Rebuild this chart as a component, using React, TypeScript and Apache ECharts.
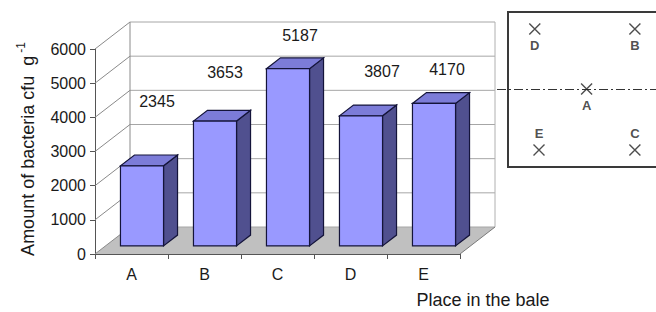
import React, { useEffect, useRef } from "react";
import * as echarts from "echarts";

// ---- data ----
const categories = ["A", "B", "C", "D", "E"];
const values = [2345, 3653, 5187, 3807, 4170];
const yMin = 0;
const yMax = 6000;
const yStep = 1000;
const xTitle = "Place in the bale";
const yTitle = "Amount of bacteria cfu  g";
const yTitleSup = "-1";

// bale diagram (relative positions in the bale sketch)
const balePlaces = ["D", "B", "A", "E", "C"];
const baleX = [0.27, 0.985, 0.64, 0.3, 0.985];
const baleY = [0.89, 0.89, 0.503, 0.11, 0.11];
const baleLabelPos = ["bottom", "bottom", "bottom", "top", "top"];
const baleAxisY = 0.5;

// label placement tweaks (style only)
const labelShift = [
  [15, -64],
  [10, -49],
  [12, -33],
  [21, -44],
  [13, -34],
];

const FONT = "'Liberation Sans', Arial, Helvetica, sans-serif";
const DEPTH_X = 35;
const DEPTH_Y = -27;

export default function App() {
  const ref = useRef<HTMLDivElement>(null);
  useEffect(() => {
    if (!ref.current) return;
    const chart = echarts.init(ref.current, null, { renderer: "svg" });
    const ticks: number[] = [];
    for (let v = yMin; v <= yMax; v += yStep) ticks.push(v);

    const frameRender = (params: any, api: any) => {
      const cs = params.coordSys;
      const gx = cs.x;
      const gw = cs.width;
      const y0 = api.coord([0, 0])[1];
      const yTop = api.coord([0, yMax])[1];
      const children: any[] = [];
      children.push({
        type: "polygon",
        shape: {
          points: [
            [gx, y0],
            [gx + gw, y0],
            [gx + gw + DEPTH_X, y0 + DEPTH_Y],
            [gx + DEPTH_X, y0 + DEPTH_Y],
          ],
        },
        style: { fill: "#c0c0c0", stroke: "none" },
      });
      ticks.forEach((t) => {
        const y = api.coord([0, t])[1];
        children.push({
          type: "line",
          shape: { x1: gx + DEPTH_X, y1: y + DEPTH_Y, x2: gx + gw + DEPTH_X, y2: y + DEPTH_Y },
          style: { stroke: "#a6a6a6", lineWidth: 1 },
        });
        children.push({
          type: "line",
          shape: { x1: gx, y1: y, x2: gx + DEPTH_X, y2: y + DEPTH_Y },
          style: { stroke: "#8a8a8a", lineWidth: 1 },
        });
      });
      children.push({
        type: "line",
        shape: { x1: gx + DEPTH_X, y1: y0 + DEPTH_Y, x2: gx + DEPTH_X, y2: yTop + DEPTH_Y },
        style: { stroke: "#8a8a8a", lineWidth: 1 },
      });
      children.push({
        type: "line",
        shape: { x1: gx + gw + DEPTH_X, y1: y0 + DEPTH_Y, x2: gx + gw + DEPTH_X, y2: yTop + DEPTH_Y },
        style: { stroke: "#b0b0b0", lineWidth: 1 },
      });
      children.push({
        type: "line",
        shape: { x1: gx + gw, y1: y0, x2: gx + gw + DEPTH_X, y2: y0 + DEPTH_Y },
        style: { stroke: "#7a7a7a", lineWidth: 1 },
      });
      return { type: "group", children };
    };

    const barRender = (params: any, api: any) => {
      const i = api.value(0);
      const v = api.value(1);
      const base = api.coord([i, 0]);
      const top = api.coord([i, v]);
      const bw = api.size([1, 0])[0] * 0.59;
      const fx = DEPTH_X * 0.3;
      const fy = DEPTH_Y * 0.3;
      const dx = DEPTH_X * 0.4;
      const dy = DEPTH_Y * 0.4;
      const xl = base[0] + fx - bw / 2;
      const xr = xl + bw;
      const yb = base[1] + fy;
      const yt = top[1] + fy;
      const stroke = "#14143a";
      const sh = labelShift[params.dataIndex] || [12, -40];
      return {
        type: "group",
        children: [
          {
            type: "polygon",
            shape: { points: [[xr, yt], [xr + dx, yt + dy], [xr + dx, yb + dy], [xr, yb]] },
            style: { fill: "#50508f", stroke, lineWidth: 1.2 },
          },
          {
            type: "polygon",
            shape: { points: [[xl, yt], [xr, yt], [xr + dx, yt + dy], [xl + dx, yt + dy]] },
            style: { fill: "#7c7cd8", stroke, lineWidth: 1.2 },
          },
          {
            type: "rect",
            shape: { x: xl, y: yt, width: bw, height: yb - yt },
            style: { fill: "#9999ff", stroke, lineWidth: 1.2 },
          },
          {
            type: "text",
            x: (xl + xr) / 2 + sh[0],
            y: yt + sh[1],
            style: {
              text: String(v),
              fill: "#1a1a1a",
              font: `16px ${FONT}`,
              align: "center",
              verticalAlign: "middle",
            },
          },
        ],
      };
    };

    // dash-dot axis of the bale sketch, drawn through grid 2's scale
    const baleAxisRender = (params: any, api: any) => {
      const y = api.coord([0, api.value(1)])[1];
      return {
        type: "line",
        shape: { x1: 497, y1: y, x2: 656, y2: y },
        style: { stroke: "#333", lineWidth: 1, lineDash: [9, 3, 2, 3] },
      };
    };

    chart.setOption({
      animation: false,
      grid: [
        { left: 95, right: 196, top: 49, bottom: 58 },
        { left: 497, top: 12, width: 140, height: 155 },
      ],
      xAxis: [
        {
          type: "category",
          data: categories,
          gridIndex: 0,
          axisLine: { show: true, lineStyle: { color: "#555", width: 1 } },
          axisTick: { show: true, length: 5, lineStyle: { color: "#555" } },
          axisLabel: { fontSize: 16, fontFamily: FONT, color: "#1a1a1a", margin: 12 },
        },
        { type: "value", gridIndex: 1, min: 0, max: 1, show: false },
      ],
      yAxis: [
        {
          type: "value",
          gridIndex: 0,
          min: yMin,
          max: yMax,
          interval: yStep,
          axisLine: { show: true, lineStyle: { color: "#555", width: 1 } },
          axisTick: { show: true, length: 5, lineStyle: { color: "#555" } },
          axisLabel: {
            fontSize: 16,
            fontFamily: FONT,
            color: "#1a1a1a",
            margin: 9,
            formatter: (v: number) => String(v),
          },
          splitLine: { show: false },
        },
        { type: "value", gridIndex: 1, min: 0, max: 1, show: false },
      ],
      graphic: [
        {
          type: "line",
          shape: { x1: 507, y1: 12, x2: 656, y2: 12 },
          style: { stroke: "#3a3a3a", lineWidth: 2 },
          z: 10,
        },
        {
          type: "line",
          shape: { x1: 508, y1: 11, x2: 508, y2: 168 },
          style: { stroke: "#3a3a3a", lineWidth: 2 },
          z: 10,
        },
        {
          type: "line",
          shape: { x1: 507, y1: 167, x2: 656, y2: 167 },
          style: { stroke: "#3a3a3a", lineWidth: 2 },
          z: 10,
        },
        {
          type: "text",
          x: 483,
          y: 300,
          style: {
            text: xTitle,
            font: `18px ${FONT}`,
            fill: "#1a1a1a",
            align: "center",
            verticalAlign: "middle",
          },
        },
        {
          type: "text",
          x: 26,
          y: 149,
          rotation: Math.PI / 2,
          style: {
            text: `{a|${yTitle}}{s|${yTitleSup}}`,
            align: "center",
            verticalAlign: "middle",
            rich: {
              a: { fontSize: 18, fontFamily: FONT, fill: "#1a1a1a", lineHeight: 22, verticalAlign: "bottom" },
              s: { fontSize: 12, fontFamily: FONT, fill: "#1a1a1a", lineHeight: 22, verticalAlign: "top", padding: [0, 0, 9, 3] },
            },
          },
        },
      ],
      series: [
        {
          type: "custom",
          xAxisIndex: 0,
          yAxisIndex: 0,
          data: [[0, 0]],
          renderItem: frameRender,
          z: 1,
          silent: true,
        },
        {
          type: "custom",
          xAxisIndex: 0,
          yAxisIndex: 0,
          data: values.map((v, i) => [i, v]),
          encode: { x: 0, y: 1 },
          renderItem: barRender,
          z: 3,
        },
        {
          type: "custom",
          xAxisIndex: 1,
          yAxisIndex: 1,
          data: [[0, baleAxisY]],
          renderItem: baleAxisRender,
          silent: true,
          z: 4,
        },
        {
          type: "scatter",
          xAxisIndex: 1,
          yAxisIndex: 1,
          symbol: "path://M0,0L10,10M10,0L0,10",
          symbolSize: 11,
          itemStyle: { color: "none", borderColor: "#222", borderWidth: 1.4 },
          data: balePlaces.map((p, i) => ({
            name: p,
            value: [baleX[i], baleY[i]],
            label: { position: baleLabelPos[i] },
          })),
          label: {
            show: true,
            formatter: "{b}",
            fontSize: 13,
            fontWeight: "bold",
            fontFamily: FONT,
            color: "#222",
            distance: 2,
          },
          z: 5,
        },
      ],
    });
    return () => chart.dispose();
  }, []);
  return (
    <div
      ref={ref}
      style={{ position: "fixed", left: 0, top: 0, width: 656, height: 312, background: "#fff" }}
    />
  );
}
